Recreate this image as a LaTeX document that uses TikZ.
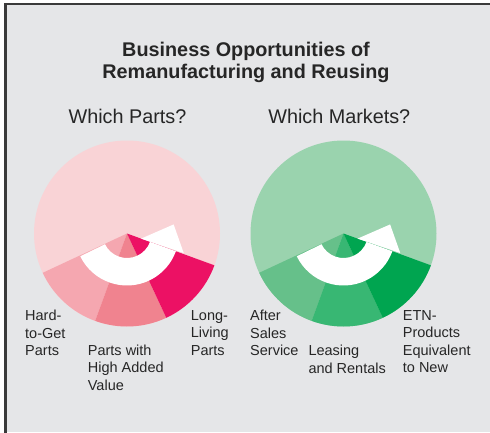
\documentclass[tikz,border=0pt]{standalone}
\usepackage{fontspec}
\setmainfont{Liberation Sans}
\definecolor{panel}{HTML}{E5E6E8}
\definecolor{frameline}{HTML}{3A3A3A}
\definecolor{ink}{HTML}{262626}
\definecolor{pinkbg}{HTML}{F9D3D6}
\definecolor{pinkA}{HTML}{F5A7B0}
\definecolor{pinkB}{HTML}{F0838F}
\definecolor{pinkC}{HTML}{EC1164}
\definecolor{greenbg}{HTML}{9AD3AE}
\definecolor{greenA}{HTML}{66C08A}
\definecolor{greenB}{HTML}{38B773}
\definecolor{greenC}{HTML}{00A550}

% #1,#2: centre; #3: base colour; #4-#6: colours of the three bottom slices
\newcommand{\segmentpie}[6]{%
  \begin{scope}[shift={(#1,#2)}]
    \fill[#3] (0,0) circle (93pt);
    \fill[#4] (0,0) -- (205:93pt) arc[start angle=205, end angle=250, radius=93pt] -- cycle;
    \fill[#5] (0,0) -- (250:93pt) arc[start angle=250, end angle=295, radius=93pt] -- cycle;
    \fill[#6] (0,0) -- (295:93pt) arc[start angle=295, end angle=340, radius=93pt] -- cycle;
    % curved white arrow
    \fill[white] (206:52pt) arc[start angle=206, end angle=340, radius=52pt]
      -- (340:24.5pt) arc[start angle=340, end angle=206, radius=24.5pt] -- cycle;
    \fill[white] (340:15pt) -- (341:60pt) -- (11:47.5pt) -- cycle;
  \end{scope}}

\tikzset{
  heading/.style={font={\fontsize{19.8}{22.7}\selectfont\bfseries}, text=ink,
    align=center, inner sep=0pt, anchor=north},
  question/.style={font={\fontsize{19.8}{22.7}\selectfont}, text=ink,
    inner sep=0pt, anchor=north},
  label/.style={font={\fontsize{14.5}{17.6}\selectfont}, text=ink,
    align=left, inner sep=0pt, anchor=north west},
}

\begin{document}
\begin{tikzpicture}[x=1pt, y=1pt]
  \useasboundingbox (0,0) rectangle (490,432);
  \fill[white] (0,0) rectangle (490,432);
  \fill[panel] (5.5,0) rectangle (490,428);
  \draw[frameline, line width=2.4pt] (5.5,-2) -- (5.5,428) -- (492,428);

  \node[heading] (title) at (246,390.3) {Business Opportunities of\\Remanufacturing and Reusing};
  \node[question] (qparts) at (127.5,322.7) {Which Parts?};
  \node[question] (qmarkets) at (339.3,322.7) {Which Markets?};

  \segmentpie{127}{198.5}{pinkbg}{pinkA}{pinkB}{pinkC}
  \segmentpie{343.5}{198.5}{greenbg}{greenA}{greenB}{greenC}

  \node[label] (hard) at (25,122) {Hard-\\to-Get\\Parts};
  \node[label] (addedvalue) at (87.7,87.7) {Parts with\\High Added\\Value};
  \node[label] (longliving) at (190.7,122) {Long-\\Living\\Parts};
  \node[label] (aftersales) at (250,122) {After\\Sales\\Service};
  \node[label] (leasing) at (308.3,87) {Leasing\\and Rentals};
  \node[label] (etn) at (402.7,122) {ETN-\\Products\\Equivalent\\to New};
\end{tikzpicture}
\end{document}
